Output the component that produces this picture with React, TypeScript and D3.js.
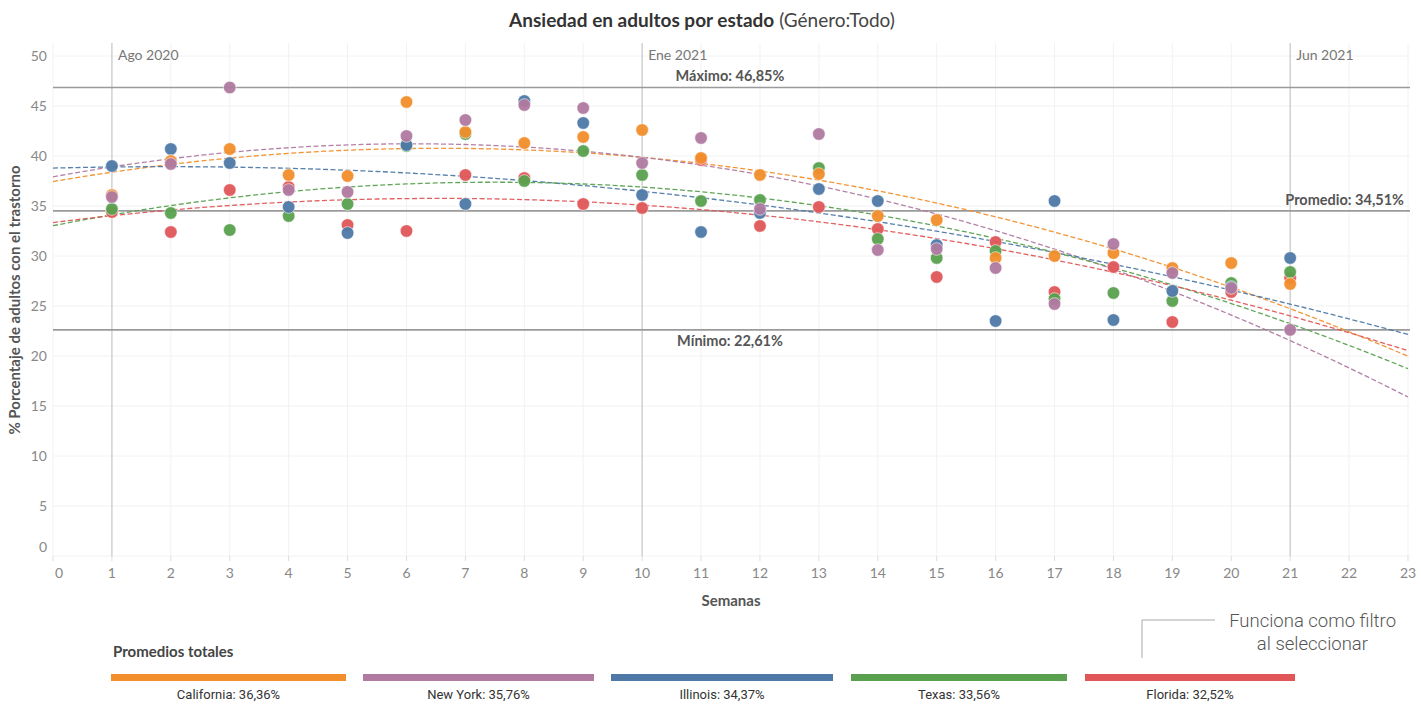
import React from "react";
import * as d3 from "d3";

const WEEKS = d3.range(1, 22);
const california = [36.1, 39.5, 40.7, 38.1, 38.0, 45.4, 42.4, 41.3, 41.9, 42.6, 39.8, 38.1, 38.2, 34.0, 33.6, 29.8, 30.0, 30.3, 28.8, 29.3, 27.2];
const newYork = [35.9, 39.2, 46.85, 36.6, 36.4, 42.0, 43.6, 45.1, 44.8, 39.3, 41.8, 34.7, 42.2, 30.6, 30.7, 28.8, 25.2, 31.2, 28.3, 26.8, 22.61];
const illinois = [39.0, 40.7, 39.3, 34.9, 32.3, 41.1, 35.2, 45.5, 43.3, 36.1, 32.4, 34.3, 36.7, 35.5, 31.1, 23.5, 35.5, 23.6, 26.5, 26.9, 29.8];
const texas = [34.7, 34.3, 32.6, 34.0, 35.2, 41.0, 42.2, 37.5, 40.5, 38.1, 35.5, 35.6, 38.8, 31.7, 29.8, 30.5, 25.7, 26.3, 25.5, 27.3, 28.4];
const florida = [34.4, 32.4, 36.6, 36.9, 33.1, 32.5, 38.1, 37.8, 35.2, 34.8, 39.6, 33.0, 34.9, 32.7, 27.9, 31.4, 26.4, 28.9, 23.4, 26.4, 27.8];

const STATES = ["California", "New York", "Illinois", "Texas", "Florida"];
const STATE_AVG = ["36,36%", "35,76%", "34,37%", "33,56%", "32,52%"];
const COLORS = ["#F28E2B", "#B07AA1", "#4E79A7", "#59A14F", "#E15759"];
const SERIES = [california, newYork, illinois, texas, florida];
const DRAW_ORDER = [4, 3, 2, 0, 1];

const X_TICKS = d3.range(0, 24);
const Y_TICKS = d3.range(0, 51, 5);
const MONTHS = [
  { week: 1, label: "Ago 2020" },
  { week: 10, label: "Ene 2021" },
  { week: 21, label: "Jun 2021" },
];
const REF_MAX = 46.85;
const REF_AVG = 34.51;
const REF_MIN = 22.61;

function quadFit(xs: number[], ys: number[]) {
  let s0 = 0, s1 = 0, s2 = 0, s3 = 0, s4 = 0, t0 = 0, t1 = 0, t2 = 0;
  xs.forEach((x, i) => {
    const y = ys[i];
    s0 += 1; s1 += x; s2 += x * x; s3 += x * x * x; s4 += x * x * x * x;
    t0 += y; t1 += x * y; t2 += x * x * y;
  });
  const M = [
    [s0, s1, s2, t0],
    [s1, s2, s3, t1],
    [s2, s3, s4, t2],
  ];
  for (let i = 0; i < 3; i++) {
    let p = i;
    for (let r = i + 1; r < 3; r++) if (Math.abs(M[r][i]) > Math.abs(M[p][i])) p = r;
    [M[i], M[p]] = [M[p], M[i]];
    for (let r = 0; r < 3; r++) {
      if (r === i) continue;
      const f = M[r][i] / M[i][i];
      for (let c = i; c < 4; c++) M[r][c] -= f * M[i][c];
    }
  }
  const a = M[0][3] / M[0][0], b = M[1][3] / M[1][1], c = M[2][3] / M[2][2];
  return (x: number) => a + b * x + c * x * x;
}

export default function App() {
  const W = 1421, H = 705;
  const x = d3.scaleLinear().domain([0, 23]).range([53, 1408]);
  const y = d3.scaleLinear().domain([0, 50]).range([556, 56]);
  const plotTop = 43, plotBottom = 556, plotLeft = 53, plotRight = 1410;
  const font = "Lato, 'Open Sans', sans-serif";
  const narrow = "'Liberation Sans Narrow', 'Roboto', sans-serif";

  const line = d3.line<number>().x((d) => x(d[0])).y((d) => y(d[1]));
  const trendXs = d3.range(0, 23.001, 0.25);

  return (
    <svg width={W} height={H} style={{ position: "absolute", left: 0, top: 0, background: "#fff" }} fontFamily={font}>
      <text x={702} y={27} textAnchor="middle" fontSize={19} fill="#333">
        <tspan fontWeight="bold">Ansiedad en adultos por estado</tspan>
        <tspan fill="#444"> (Género:Todo)</tspan>
      </text>

      {Y_TICKS.map((t) => (
        <line key={"gy" + t} x1={plotLeft} x2={plotRight} y1={y(t)} y2={y(t)} stroke="#f2f2f2" strokeWidth={1} />
      ))}
      {X_TICKS.map((t) => (
        <line key={"gx" + t} x1={x(t)} x2={x(t)} y1={plotTop} y2={plotBottom} stroke="#f2f2f2" strokeWidth={1} />
      ))}
      {X_TICKS.map((t) => (
        <line key={"tx" + t} x1={x(t)} x2={x(t)} y1={plotBottom} y2={plotBottom + 5} stroke="#ddd" strokeWidth={1} />
      ))}

      {MONTHS.map((m) => (
        <g key={m.label}>
          <line x1={x(m.week)} x2={x(m.week)} y1={plotTop} y2={plotBottom} stroke="#c8c8c8" strokeWidth={1.2} />
          <text x={x(m.week) + 6} y={60} fontSize={14} fill="#777">{m.label}</text>
        </g>
      ))}

      {[REF_MAX, REF_AVG, REF_MIN].map((v) => (
        <line key={"r" + v} x1={plotLeft} x2={plotRight} y1={y(v)} y2={y(v)} stroke="#9a9a9a" strokeWidth={1.6} />
      ))}
      <text x={730} y={y(REF_MAX) - 7} textAnchor="middle" fontSize={14.5} fontWeight="bold" fill="#555">Máximo: 46,85%</text>
      <text x={1404} y={y(REF_AVG) - 6} textAnchor="end" fontSize={14.5} fontWeight="bold" fill="#555">Promedio: 34,51%</text>
      <text x={730} y={y(REF_MIN) + 16} textAnchor="middle" fontSize={14.5} fontWeight="bold" fill="#555">Mínimo: 22,61%</text>

      {Y_TICKS.map((t) => (
        <text key={"yl" + t} x={47} y={t === 0 ? y(t) - 9 : y(t)} dy="0.35em" textAnchor="end" fontSize={14} fill="#888">{t}</text>
      ))}
      {X_TICKS.map((t) => (
        <text key={"xl" + t} x={t === 0 ? x(t) + 6 : x(t)} y={578} textAnchor="middle" fontSize={14} fill="#888">{t}</text>
      ))}
      <text x={731} y={606} textAnchor="middle" fontSize={15} fontWeight="bold" fill="#555">Semanas</text>
      <text transform={`translate(20,${300}) rotate(-90)`} textAnchor="middle" fontSize={15} fontWeight="bold" fill="#555">% Porcentaje de adultos con el trastorno</text>

      {SERIES.map((s, i) => {
        const f = quadFit(WEEKS, s);
        const pts = trendXs.map((t) => [t, f(t)] as [number, number]);
        return (
          <path key={"tr" + i} d={line(pts as any) || ""} fill="none" stroke={COLORS[i]} strokeWidth={1.3} strokeDasharray="5,2.5" opacity={0.95} />
        );
      })}

      {DRAW_ORDER.map((i) =>
        SERIES[i].map((v, k) => (
          <circle key={"p" + i + "-" + k} cx={x(WEEKS[k])} cy={y(v)} r={6.3} fill={COLORS[i]} stroke="#fff" strokeWidth={0.6} opacity={0.95} />
        ))
      )}

      <text x={113} y={657} fontSize={15} fontWeight="bold" fill="#444">Promedios totales</text>
      {STATES.map((s, i) => {
        const bx = [111, 363, 611, 851, 1085][i];
        const bw = [235, 231, 222, 216, 210][i];
        return (
          <g key={"lg" + s}>
            <rect x={bx} y={674} width={bw} height={7} fill={COLORS[i]} />
            <text x={bx + bw / 2} y={699} textAnchor="middle" fontSize={13} fontFamily={narrow} fill="#333">{`${s}: ${STATE_AVG[i]}`}</text>
          </g>
        );
      })}

      <path d="M1215,620 H1142 V658" fill="none" stroke="#aaa" strokeWidth={1} />
      <text x={1396} y={627} textAnchor="end" fontSize={18.5} fontWeight={300} fontFamily="Roboto, sans-serif" fill="#555">Funciona como filtro</text>
      <text x={1368} y={650} textAnchor="end" fontSize={18.5} fontWeight={300} fontFamily="Roboto, sans-serif" fill="#555">al seleccionar</text>
    </svg>
  );
}
